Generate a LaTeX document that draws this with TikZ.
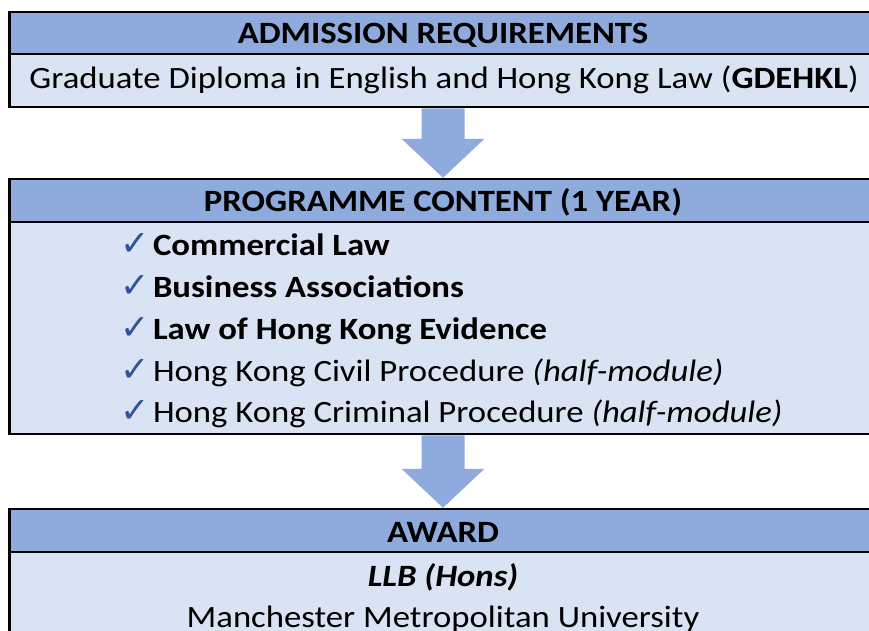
\documentclass[tikz,border=0pt]{standalone}
\usepackage{fontspec}
\setmainfont{Carlito}[FakeStretch=1.12]
\newfontfamily\symf{DejaVu Sans}
\usetikzlibrary{calc}
\definecolor{hdrc}{RGB}{143,170,220}
\definecolor{bodyc}{RGB}{218,227,243}
\definecolor{tickc}{RGB}{47,85,151}
\begin{document}
\begin{tikzpicture}[x=1pt,y=-1pt,
  box/.style={draw=black,line width=2.5pt,rectangle,inner sep=0pt,outer sep=0pt,minimum width=867pt},
  hdr/.style={box,fill=hdrc},
  bodybox/.style={box,fill=bodyc},
  arrowc/.style={fill=hdrc},
  txt/.style={inner sep=0pt,outer sep=0pt,font=\fontsize{31}{37}\selectfont},
  item/.style={txt,anchor=base west},
  tick/.style={inner sep=0pt,outer sep=0pt,anchor=base west,text=tickc,font=\symf\fontsize{35}{40}\selectfont}
]
\useasboundingbox (0,0) rectangle (869,630);
\clip (0,0) rectangle (869,630);
\fill[white] (0,0) rectangle (869,630);

% box 1
\node[hdr,minimum height=42pt] (h1) at (443,33) {};
\node[bodybox,minimum height=53pt] (b1) at (443,80.5) {};
\node[txt,anchor=base] (t1) at (443,43) {\bfseries ADMISSION REQUIREMENTS};
\node[txt,anchor=base] (t2) at (444,88) {Graduate Diploma in English and Hong Kong Law (\textbf{GDEHKL})};

% box 2
\node[hdr,minimum height=43pt] (h2) at (443,200.5) {};
\node[bodybox,minimum height=212pt] (b2) at (443,328) {};
\node[txt,anchor=base] (t3) at (443,211) {\bfseries PROGRAMME CONTENT (1 YEAR)};
\node[tick] (c1) at (120,255) {\bfseries ✓};
\node[item] (i1) at (153,255) {\bfseries Commercial Law};
\node[tick] (c2) at (120,297) {\bfseries ✓};
\node[item] (i2) at (153,297) {\bfseries Business Associations};
\node[tick] (c3) at (120,339.5) {\bfseries ✓};
\node[item] (i3) at (153,339.5) {\bfseries Law of Hong Kong Evidence};
\node[tick] (c4) at (120,381) {✓};
\node[item] (i4) at (153,381) {Hong Kong Civil Procedure \textit{(half-module)}};
\node[tick] (c5) at (120,422) {✓};
\node[item] (i5) at (153,422) {Hong Kong Criminal Procedure \textit{(half-module)}};

% box 3
\node[hdr,minimum height=43pt] (h3) at (443,530.5) {};
\node[bodybox,minimum height=120pt] (b3) at (443,612) {};
\node[txt,anchor=base] (t4) at (443,542) {\bfseries AWARD};
\node[txt,anchor=base] (t5) at (443,586) {\bfseries\itshape LLB (Hons)};
\node[txt,anchor=base] (t6) at (443,627) {Manchester Metropolitan University};

% arrows
\path[arrowc] let \p1=(b1.south), \p2=(h2.north) in
  (\x1-21.5pt,\y1-1.25pt) -- (\x1+21.5pt,\y1-1.25pt) -- (\x1+21.5pt,\y2+40.25pt)
  -- (\x1+41.5pt,\y2+40.25pt) -- (\x1,\y2+1.25pt) -- (\x1-41.5pt,\y2+40.25pt)
  -- (\x1-21.5pt,\y2+40.25pt) -- cycle;
\path[arrowc] let \p1=(b2.south), \p2=(h3.north) in
  (\x1-21.5pt,\y1-1.25pt) -- (\x1+21.5pt,\y1-1.25pt) -- (\x1+21.5pt,\y2+40.25pt)
  -- (\x1+41.5pt,\y2+40.25pt) -- (\x1,\y2+1.25pt) -- (\x1-41.5pt,\y2+40.25pt)
  -- (\x1-21.5pt,\y2+40.25pt) -- cycle;
\end{tikzpicture}
\end{document}
